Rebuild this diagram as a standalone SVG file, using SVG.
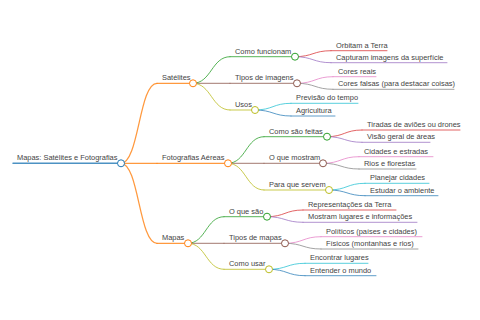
<svg xmlns="http://www.w3.org/2000/svg" width="480" height="320" viewBox="0 0 480 320">
<style>
text{font-family:"Liberation Sans",Arial,sans-serif;font-size:7.45px;fill:#444}
path,line{fill:none;stroke-linecap:round;stroke-opacity:0.8}
circle{fill:#fff;stroke-width:1}
.l0{stroke-width:1.5}.l1{stroke-width:1.25}.l2{stroke-width:1}.l3{stroke-width:0.9}
.blue{stroke:#1f77b4}.orange{stroke:#ff7f0e}.green{stroke:#2ca02c}.red{stroke:#d62728}.purple{stroke:#9467bd}.brown{stroke:#8c564b}.pink{stroke:#e377c2}.gray{stroke:#7f7f7f}.olive{stroke:#bcbd22}.cyan{stroke:#17becf}
</style>
<rect width="480" height="320" fill="#fff"/>
<g id="connectors">
<path class="l1 orange" d="M121 163.3C139 163.3 139 83.3 157 83.3"/>
<path class="l1 orange" d="M121 163.3H157"/>
<path class="l1 orange" d="M121 163.3C139 163.3 139 243.3 157 243.3"/>
<path class="l2 green" d="M193 83.3C211.5 83.3 211.5 56.7 230 56.7"/>
<path class="l2 brown" d="M193 83.3H230"/>
<path class="l2 olive" d="M193 83.3C211.5 83.3 211.5 110 230 110"/>
<path class="l2 green" d="M228 163.3C246 163.3 246 136.7 264 136.7"/>
<path class="l2 brown" d="M228 163.3H264"/>
<path class="l2 olive" d="M228 163.3C246 163.3 246 190 264 190"/>
<path class="l2 green" d="M188 243.3C206 243.3 206 216.7 224 216.7"/>
<path class="l2 brown" d="M188 243.3H224"/>
<path class="l2 olive" d="M188 243.3C206 243.3 206 269.3 224 269.3"/>
<path class="l3 red" d="M295 56.7C313 56.7 313 50.7 331 50.7"/>
<path class="l3 purple" d="M295 56.7C313 56.7 313 62.7 331 62.7"/>
<path class="l3 pink" d="M297 83.3C315 83.3 315 76.7 333 76.7"/>
<path class="l3 gray" d="M297 83.3C315 83.3 315 89.3 333 89.3"/>
<path class="l3 cyan" d="M255 110C273 110 273 103.3 291 103.3"/>
<path class="l3 blue" d="M255 110C273 110 273 116 291 116"/>
<path class="l3 red" d="M327 136.7C344.5 136.7 344.5 130 362 130"/>
<path class="l3 purple" d="M327 136.7C344.5 136.7 344.5 142.3 362 142.3"/>
<path class="l3 pink" d="M323 163.3C341 163.3 341 156.7 359 156.7"/>
<path class="l3 gray" d="M323 163.3C341 163.3 341 169 359 169"/>
<path class="l3 cyan" d="M329 190C347 190 347 183.3 365 183.3"/>
<path class="l3 blue" d="M329 190C347 190 347 195.7 365 195.7"/>
<path class="l3 red" d="M267 216.7C285 216.7 285 210 303 210"/>
<path class="l3 purple" d="M267 216.7C285 216.7 285 222.3 303 222.3"/>
<path class="l3 pink" d="M285 243.3C303 243.3 303 236.7 321 236.7"/>
<path class="l3 gray" d="M285 243.3C303 243.3 303 249 321 249"/>
<path class="l3 cyan" d="M269 269.3C287 269.3 287 263.3 305 263.3"/>
<path class="l3 blue" d="M269 269.3C287 269.3 287 275.7 305 275.7"/>
</g>
<g id="root"><line class="l0 blue" x1="13" y1="163.3" x2="121" y2="163.3"/><circle class="blue" cx="121" cy="163.3" r="3.5"/><text x="17" y="160.3">Mapas: Satélites e Fotografias</text></g>
<g id="satelites"><line class="l1 orange" x1="157" y1="83.3" x2="193" y2="83.3"/><circle class="orange" cx="193" cy="83.3" r="3.5"/><text x="162" y="80.3">Satélites</text></g>
<g id="fotografias"><line class="l1 orange" x1="157" y1="163.3" x2="228" y2="163.3"/><circle class="orange" cx="228" cy="163.3" r="3.5"/><text x="162" y="160.3">Fotografias Aéreas</text></g>
<g id="mapas"><line class="l1 orange" x1="157" y1="243.3" x2="188" y2="243.3"/><circle class="orange" cx="188" cy="243.3" r="3.5"/><text x="162" y="240.3">Mapas</text></g>
<g id="como-funcionam"><line class="l2 green" x1="230" y1="56.7" x2="295" y2="56.7"/><circle class="green" cx="295" cy="56.7" r="3.5"/><text x="235" y="53.7">Como funcionam</text></g>
<g id="tipos-imagens"><line class="l2 brown" x1="230" y1="83.3" x2="297" y2="83.3"/><circle class="brown" cx="297" cy="83.3" r="3.5"/><text x="235" y="80.3">Tipos de imagens</text></g>
<g id="usos"><line class="l2 olive" x1="230" y1="110" x2="255" y2="110"/><circle class="olive" cx="255" cy="110" r="3.5"/><text x="235" y="107">Usos</text></g>
<g id="como-sao-feitas"><line class="l2 green" x1="264" y1="136.7" x2="327" y2="136.7"/><circle class="green" cx="327" cy="136.7" r="3.5"/><text x="269" y="133.7">Como são feitas</text></g>
<g id="o-que-mostram"><line class="l2 brown" x1="264" y1="163.3" x2="323" y2="163.3"/><circle class="brown" cx="323" cy="163.3" r="3.5"/><text x="269" y="160.3">O que mostram</text></g>
<g id="para-que-servem"><line class="l2 olive" x1="264" y1="190" x2="329" y2="190"/><circle class="olive" cx="329" cy="190" r="3.5"/><text x="269" y="187">Para que servem</text></g>
<g id="o-que-sao"><line class="l2 green" x1="224" y1="216.7" x2="267" y2="216.7"/><circle class="green" cx="267" cy="216.7" r="3.5"/><text x="229" y="213.7">O que são</text></g>
<g id="tipos-mapas"><line class="l2 brown" x1="224" y1="243.3" x2="285" y2="243.3"/><circle class="brown" cx="285" cy="243.3" r="3.5"/><text x="229" y="240.3">Tipos de mapas</text></g>
<g id="como-usar"><line class="l2 olive" x1="224" y1="269.3" x2="269" y2="269.3"/><circle class="olive" cx="269" cy="269.3" r="3.5"/><text x="229" y="266.3">Como usar</text></g>
<g id="orbitam"><line class="l3 red" x1="331" y1="50.7" x2="387" y2="50.7"/><text x="336" y="47.7">Orbitam a Terra</text></g>
<g id="capturam"><line class="l3 purple" x1="331" y1="62.7" x2="447" y2="62.7"/><text x="336" y="59.7">Capturam imagens da superfície</text></g>
<g id="cores-reais"><line class="l3 pink" x1="333" y1="76.7" x2="376" y2="76.7"/><text x="338" y="73.7">Cores reais</text></g>
<g id="cores-falsas"><line class="l3 gray" x1="333" y1="89.3" x2="454" y2="89.3"/><text x="338" y="86.3">Cores falsas (para destacar coisas)</text></g>
<g id="previsao"><line class="l3 cyan" x1="291" y1="103.3" x2="358" y2="103.3"/><text x="296" y="100.3">Previsão do tempo</text></g>
<g id="agricultura"><line class="l3 blue" x1="291" y1="116" x2="335" y2="116"/><text x="296" y="113">Agricultura</text></g>
<g id="tiradas"><line class="l3 red" x1="362" y1="130" x2="460" y2="130"/><text x="367" y="127">Tiradas de aviões ou drones</text></g>
<g id="visao"><line class="l3 purple" x1="362" y1="142.3" x2="430" y2="142.3"/><text x="367" y="139.3">Visão geral de áreas</text></g>
<g id="cidades-estradas"><line class="l3 pink" x1="359" y1="156.7" x2="433" y2="156.7"/><text x="364" y="153.7">Cidades e estradas</text></g>
<g id="rios"><line class="l3 gray" x1="359" y1="169" x2="416" y2="169"/><text x="364" y="166">Rios e florestas</text></g>
<g id="planejar"><line class="l3 cyan" x1="365" y1="183.3" x2="429" y2="183.3"/><text x="370" y="180.3">Planejar cidades</text></g>
<g id="estudar"><line class="l3 blue" x1="365" y1="195.7" x2="438" y2="195.7"/><text x="370" y="192.7">Estudar o ambiente</text></g>
<g id="representacoes"><line class="l3 red" x1="303" y1="210" x2="396" y2="210"/><text x="308" y="207">Representações da Terra</text></g>
<g id="mostram"><line class="l3 purple" x1="303" y1="222.3" x2="417" y2="222.3"/><text x="308" y="219.3">Mostram lugares e informações</text></g>
<g id="politicos"><line class="l3 pink" x1="321" y1="236.7" x2="422" y2="236.7"/><text x="326" y="233.7">Políticos (países e cidades)</text></g>
<g id="fisicos"><line class="l3 gray" x1="321" y1="249" x2="418" y2="249"/><text x="326" y="246">Físicos (montanhas e rios)</text></g>
<g id="encontrar"><line class="l3 cyan" x1="305" y1="263.3" x2="368" y2="263.3"/><text x="310" y="260.3">Encontrar lugares</text></g>
<g id="entender"><line class="l3 blue" x1="305" y1="275.7" x2="376" y2="275.7"/><text x="310" y="272.7">Entender o mundo</text></g>
</svg>
